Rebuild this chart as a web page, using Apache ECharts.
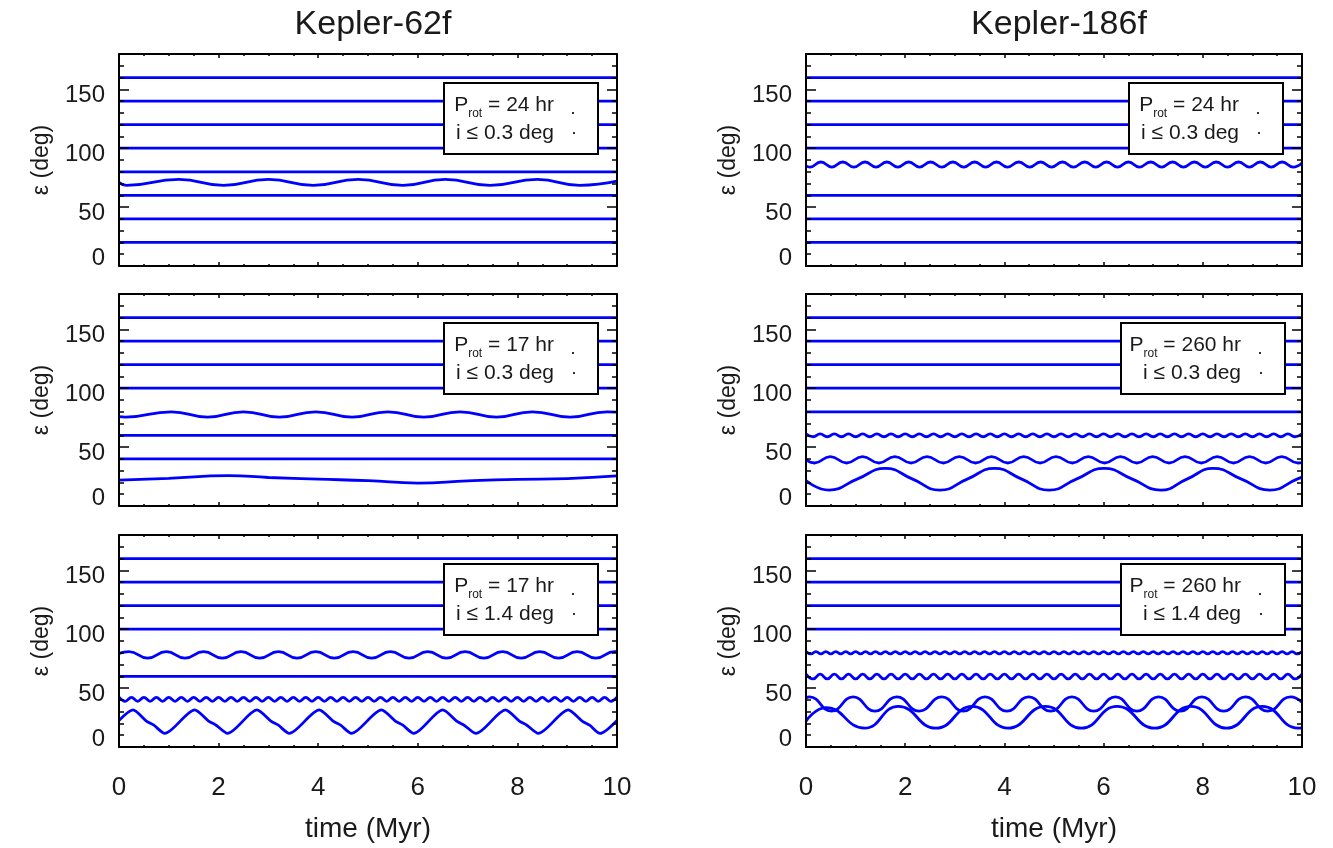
<!DOCTYPE html>
<html><head><meta charset="utf-8">
<script src="https://cdn.jsdelivr.net/npm/echarts@6/dist/echarts.min.js"></script>
<style>html,body{margin:0;padding:0;background:#fff}#c{width:1333px;height:848px}</style>
</head><body><div id="c"></div>
<script>
// ---------- text ----------
const columnTitles = ['Kepler-62f', 'Kepler-186f'];
const xAxisTitle = 'time (Myr)';
const yAxisTitle = 'ε (deg)';
const rotPeriods = ['24', '17', '17', '24', '260', '260'];
const inclinations = ['0.3', '0.3', '1.4', '0.3', '0.3', '1.4'];

// ---------- data (time in Myr, obliquity in deg) ----------
// Kepler-62f, Prot 24 hr, i<=0.3
const p1Flat = [160, 140, 120, 100, 80, 60, 40, 20];
const p1Wave70 = [[0,71],[0.15,68.5],[1.2,73.5],[2.1,68.5],[3.0,73.5],[3.9,68.5],[4.8,73.5],[5.7,68.5],[6.55,73.5],[7.45,68.5],[8.4,73.5],[9.25,68.5],[10,72]];
// Kepler-62f, Prot 17 hr, i<=0.3
const p2Flat = [160, 140, 120, 100, 60, 40];
const p2Wave80 = [[0,75.8],[0.13,75.5],[1.05,80],[1.78,75.5],[2.5,80],[3.22,75.5],[3.95,80],[4.68,75.5],[5.4,80],[6.12,75.5],[6.85,80],[7.58,75.5],[8.3,80],[9.06,75.5],[9.8,80],[10,79.7]];
const p2Low20 = [[0,22],[1,23.5],[2.2,25.8],[3,24.2],[4,22.8],[5,21.5],[6,19.5],[7,21.3],[8,22.6],[9,23.3],[10,25.5]];
// Kepler-62f, Prot 17 hr, i<=1.4
const p3Flat = [160, 140, 120, 100, 60];
const p3Wave80 = [[0,79.5],[0.2,81],[0.575,75.5],[0.95,81],[1.325,75.5],[1.7,81],[2.075,75.5],[2.45,81],[2.825,75.5],[3.2,81],[3.575,75.5],[3.95,81],[4.325,75.5],[4.7,81],[5.075,75.5],[5.45,81],[5.825,75.5],[6.2,81],[6.575,75.5],[6.95,81],[7.325,75.5],[7.7,81],[8.075,75.5],[8.45,81],[8.825,75.5],[9.2,81],[9.575,75.5],[9.95,81],[10,80.9]];
const p3Zig40Step = 0.125;
const p3Zig40 = [42.2,38.8,42.2,38.8,42.2,38.8,42.2,38.8,42.2,38.8,42.2,38.8,42.2,38.8,42.2,38.8,42.2,38.8,42.2,38.8,
  42.2,38.8,42.2,38.8,42.2,38.8,42.2,38.8,42.2,38.8,42.2,38.8,42.2,38.8,42.2,38.8,42.2,38.8,42.2,38.8,
  42.2,38.8,42.2,38.8,42.2,38.8,42.2,38.8,42.2,38.8,42.2,38.8,42.2,38.8,42.2,38.8,42.2,38.8,42.2,38.8,
  42.2,38.8,42.2,38.8,42.2,38.8,42.2,38.8,42.2,38.8,42.2,38.8,42.2,38.8,42.2,38.8,42.2,38.8,42.2,38.8,42.2];
const p3Tri = [[0,22.5],[0.28,31.5],[0.55,22],[0.7,18.5],[0.92,11.5],[1.52,31.5],[1.8,22],[1.95,18.5],[2.18,11.5],[2.77,31.5],[3.05,22],[3.2,18.5],[3.42,11.5],[4.02,31.5],[4.3,22],[4.45,18.5],[4.67,11.5],[5.27,31.5],[5.55,22],[5.7,18.5],[5.92,11.5],[6.5,31.5],[6.78,22],[6.93,18.5],[7.17,11.5],[7.76,31.5],[8.04,22],[8.19,18.5],[8.42,11.5],[9.02,31.5],[9.3,22],[9.45,18.5],[9.66,11.5],[10,22.5]];
// Kepler-186f, Prot 24 hr, i<=0.3
const p4Flat = [160, 140, 120, 100, 60, 40, 20];
const p4Wave86 = [[0,85],[0.08,84],[0.3,88.3],[0.52,84],[0.74,88.3],[0.965,84],[1.19,88.3],[1.41,84],[1.63,88.3],[1.85,84],[2.07,88.3],[2.29,84],[2.51,88.3],[2.74,84],[2.96,88.3],[3.18,84],[3.4,88.3],[3.62,84],[3.84,88.3],[4.06,84],[4.29,88.3],[4.51,84],[4.73,88.3],[4.95,84],[5.17,88.3],[5.39,84],[5.62,88.3],[5.84,84],[6.06,88.3],[6.28,84],[6.5,88.3],[6.72,84],[6.95,88.3],[7.17,84],[7.39,88.3],[7.61,84],[7.83,88.3],[8.05,84],[8.27,88.3],[8.5,84],[8.72,88.3],[8.94,84],[9.16,88.3],[9.38,84],[9.6,88.3],[9.82,84],[10,87.5]];
// Kepler-186f, Prot 260 hr, i<=0.3
const p5Flat = [160, 140, 120, 100, 80];
const p5Ripple60Step = 0.142857;
const p5Ripple60 = [61.2,58.8,61.2,58.8,61.2,58.8,61.2,58.8,61.2,58.8,61.2,58.8,61.2,58.8,61.2,58.8,61.2,58.8,61.2,58.8,
  61.2,58.8,61.2,58.8,61.2,58.8,61.2,58.8,61.2,58.8,61.2,58.8,61.2,58.8,61.2,58.8,61.2,58.8,61.2,58.8,
  61.2,58.8,61.2,58.8,61.2,58.8,61.2,58.8,61.2,58.8,61.2,58.8,61.2,58.8,61.2,58.8,61.2,58.8,61.2,58.8,
  61.2,58.8,61.2,58.8,61.2,58.8,61.2,58.8,61.2,58.8,61.2];
const p5Wave40 = [[0,39.5],[0.17,36.5],[0.49,42],[0.82,36.5],[1.14,42],[1.47,36.5],[1.79,42],[2.12,36.5],[2.44,42],[2.77,36.5],[3.09,42],[3.42,36.5],[3.74,42],[4.07,36.5],[4.39,42],[4.72,36.5],[5.04,42],[5.37,36.5],[5.69,42],[6.02,36.5],[6.34,42],[6.67,36.5],[6.99,42],[7.32,36.5],[7.64,42],[7.97,36.5],[8.29,42],[8.62,36.5],[8.94,42],[9.27,36.5],[9.59,42],[9.92,36.5],[10,36.8]];
const p5Big = [[0,21.5],[0.46,13.5],[1.03,22.8],[1.6,32],[2.15,22.8],[2.7,13.5],[3.25,22.8],[3.8,32],[4.35,22.8],[4.9,13.5],[5.45,22.8],[6.01,32],[6.58,22.8],[7.15,13.5],[7.68,22.8],[8.21,32],[8.78,22.8],[9.35,13.5],[9.9,22.8],[10,24.5]];
// Kepler-186f, Prot 260 hr, i<=1.4
const p6Flat = [160, 140, 120, 100];
const p6Ripple80Step = 0.1;
const p6Ripple80 = [81,79,81,79,81,79,81,79,81,79,81,79,81,79,81,79,81,79,81,79,
  81,79,81,79,81,79,81,79,81,79,81,79,81,79,81,79,81,79,81,79,
  81,79,81,79,81,79,81,79,81,79,81,79,81,79,81,79,81,79,81,79,
  81,79,81,79,81,79,81,79,81,79,81,79,81,79,81,79,81,79,81,79,
  81,79,81,79,81,79,81,79,81,79,81,79,81,79,81,79,81,79,81,79,81];
const p6Ripple60Step = 0.142857;
const p6Ripple60 = [61.8,57.8,61.8,57.8,61.8,57.8,61.8,57.8,61.8,57.8,61.8,57.8,61.8,57.8,61.8,57.8,61.8,57.8,61.8,57.8,
  61.8,57.8,61.8,57.8,61.8,57.8,61.8,57.8,61.8,57.8,61.8,57.8,61.8,57.8,61.8,57.8,61.8,57.8,61.8,57.8,
  61.8,57.8,61.8,57.8,61.8,57.8,61.8,57.8,61.8,57.8,61.8,57.8,61.8,57.8,61.8,57.8,61.8,57.8,61.8,57.8,
  61.8,57.8,61.8,57.8,61.8,57.8,61.8,57.8,61.8,57.8,61.8];
const p6WaveA = [[0,41.5],[0.07,42.5],[0.51,30.5],[0.95,42.5],[1.39,30.5],[1.83,42.5],[2.28,30.5],[2.74,42.5],[3.17,30.5],[3.61,42.5],[4.05,30.5],[4.49,42.5],[4.93,30.5],[5.36,42.5],[5.8,30.5],[6.24,42.5],[6.67,30.5],[7.11,42.5],[7.55,30.5],[7.98,42.5],[8.42,30.5],[8.86,42.5],[9.31,30.5],[9.77,42.5],[10,38]];
const p6WaveB = [[0,22],[0.4,33.5],[1.18,16],[1.86,34.5],[2.62,16],[3.35,34.5],[4.07,16],[4.83,34.5],[5.55,16],[6.27,34.5],[7.03,16],[7.76,34.5],[8.48,16],[9.2,34.5],[9.92,16],[10,16.2]];

// ---------- layout ----------
const F = "'Liberation Sans', Arial, Helvetica, sans-serif";
const TXT = '#1a1a1a';
const BLUE = '#0000ff';
const colLeft = [119, 806], colWidth = [498, 496];
const rowTop = [54, 294, 535], rowHeight = 212;

const rippleSeries = (arr, step) => arr.map((v, k) => [k * step, v]);
const flatSeries = lv => [[0, lv], [10, lv]];

const panels = [
  {col:0, row:0, flat:p1Flat, curves:[[p1Wave70, 0.5]]},
  {col:0, row:1, flat:p2Flat, curves:[[p2Wave80, 0.5], [p2Low20, 0.5]]},
  {col:0, row:2, flat:p3Flat, curves:[[p3Wave80, 0.5], [rippleSeries(p3Zig40, p3Zig40Step), 0.4], [p3Tri, 0.25]]},
  {col:1, row:0, flat:p4Flat, curves:[[p4Wave86, 0.5]]},
  {col:1, row:1, flat:p5Flat, curves:[[rippleSeries(p5Ripple60, p5Ripple60Step), 0.5], [p5Wave40, 0.5], [p5Big, 0.5]]},
  {col:1, row:2, flat:p6Flat, curves:[[rippleSeries(p6Ripple80, p6Ripple80Step), 0.5], [rippleSeries(p6Ripple60, p6Ripple60Step), 0.5], [p6WaveA, 0.5], [p6WaveB, 0.5]]}
];

const grids = [], xAxes = [], yAxes = [], series = [], graphics = [];
const frameLine = {show:true, onZero:false, lineStyle:{color:'#000', width:2}};

panels.forEach((p, i) => {
  const left = colLeft[p.col], width = colWidth[p.col], top = rowTop[p.row];
  grids.push({left, top, width, height: rowHeight});
  const showX = p.row === 2;
  const xi = xAxes.length;
  const xBase = {type:'value', gridIndex:i, min:0, max:10, interval:2, z:5,
    axisLine: frameLine,
    axisTick:{show:true, inside:true, length:4, lineStyle:{color:'#000', width:1.5}},
    minorTick:{show:true, splitNumber:4, length:2, lineStyle:{color:'#000', width:1.5}},
    splitLine:{show:false}, minorSplitLine:{show:false}};
  xAxes.push(Object.assign({}, xBase, {position:'bottom',
    axisLabel:{show:showX, margin:28, fontSize:26, color:TXT, fontFamily:F},
    name: showX ? xAxisTitle : '', nameLocation:'middle', nameGap:68,
    nameTextStyle:{fontSize:28, color:TXT, fontFamily:F}}));
  xAxes.push(Object.assign({}, xBase, {position:'top', axisLabel:{show:false}}));

  const yi = yAxes.length;
  const yMajor = {type:'value', gridIndex:i, min:0, max:180, interval:50, z:5,
    axisLine: frameLine,
    axisTick:{show:true, inside:true, length:10, lineStyle:{color:'#000', width:1.5}},
    splitLine:{show:false}};
  const yMinor = {type:'value', gridIndex:i, min:0, max:180, interval:10, z:5,
    axisLine:{show:false, onZero:false},
    axisTick:{show:true, inside:true, length:5, lineStyle:{color:'#000', width:1.5}},
    axisLabel:{show:false}, splitLine:{show:false}};
  yAxes.push(Object.assign({}, yMajor, {position:'left',
    axisLabel:{show:true, margin:14, showMaxLabel:false, fontSize:24, color:TXT, fontFamily:F,
      formatter: v => v === 0 ? '{z|0}' : (v % 50 === 0 ? '{a|' + v + '}' : ''),
      rich:{a:{fontSize:24, color:TXT, fontFamily:F, padding:[12,0,0,0]},
            z:{fontSize:24, color:TXT, fontFamily:F, padding:[0,0,16,0]}}},
    name: yAxisTitle, nameLocation:'middle', nameRotate:90, nameGap:66,
    nameTextStyle:{fontSize:23, color:TXT, fontFamily:F}}));
  yAxes.push(Object.assign({}, yMinor, {position:'left'}));
  yAxes.push(Object.assign({}, yMajor, {position:'right', axisLabel:{show:false}}));
  yAxes.push(Object.assign({}, yMinor, {position:'right'}));

  const line = (data, smooth) => ({type:'line', xAxisIndex:xi, yAxisIndex:yi, data,
    showSymbol:false, symbol:'none', smooth, silent:true, animation:false,
    lineStyle:{color:BLUE, width:2.8}, z:2});
  p.flat.forEach(lv => series.push(line(flatSeries(lv), false)));
  p.curves.forEach(c => series.push(line(c[0], c[1])));

  // legend box
  const prot = rotPeriods[i], inc = inclinations[i];
  const wide = prot.length > 2;
  const boxW = wide ? 164 : 154;
  const boxRight = left + width - (wide ? 17 : 19);
  const boxLeft = boxRight - boxW, boxTop = top + 29, boxH = 71;
  const textRight = boxRight - 44;
  graphics.push({type:'rect', z:100, shape:{x:boxLeft, y:boxTop, width:boxW, height:boxH},
    style:{fill:'#fff', stroke:'#000', lineWidth:2}});
  graphics.push({type:'text', z:101, x:textRight, y:boxTop + 22,
    style:{text:'{p|P}{s|rot}{n| = ' + prot + ' hr}', align:'right', verticalAlign:'middle',
      textAlign:'right', textVerticalAlign:'middle',
      rich:{p:{fontSize:21, fontFamily:F, fill:TXT, lineHeight:30},
            s:{fontSize:12, fontFamily:F, fill:TXT, lineHeight:10, verticalAlign:'bottom'},
            n:{fontSize:21, fontFamily:F, fill:TXT, lineHeight:30}}}});
  graphics.push({type:'text', z:101, x:textRight, y:boxTop + 50.5,
    style:{text:'i ≤ ' + inc + ' deg', fontSize:21, fontFamily:F, fill:TXT,
      align:'right', verticalAlign:'middle', textAlign:'right', textVerticalAlign:'middle'}});
  graphics.push({type:'circle', z:101, shape:{cx:boxRight - 25, cy:boxTop + 30, r:1.1}, style:{fill:'#000'}});
  graphics.push({type:'circle', z:101, shape:{cx:boxRight - 24, cy:boxTop + 50, r:1.1}, style:{fill:'#000'}});
});

const chart = echarts.init(document.getElementById('c'), null, {renderer:'canvas'});
chart.setOption({
  animation:false,
  backgroundColor:'#fff',
  textStyle:{fontFamily:F},
  title: columnTitles.map((t, c) => ({text:t, left: colLeft[c] + colWidth[c] / 2, top:3, textAlign:'center',
    textStyle:{fontSize:34, fontWeight:'normal', color:TXT, fontFamily:F}})),
  grid: grids,
  xAxis: xAxes,
  yAxis: yAxes,
  series: series,
  graphic: graphics
});
</script>
</body></html>
